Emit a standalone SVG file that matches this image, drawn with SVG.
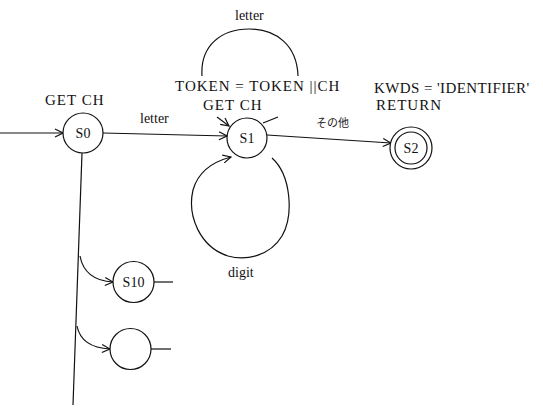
<svg xmlns="http://www.w3.org/2000/svg" width="543" height="408" viewBox="0 0 543 408">
<style>
  .bg { fill: #ffffff; }
  .node { fill: #ffffff; stroke: #111; stroke-width: 1.2; }
  .edge { fill: none; stroke: #111; stroke-width: 1.2; }
  .t { font-family: "Liberation Serif", "Times New Roman", serif; fill: #111; }
  .lbl { font-size: 14px; text-anchor: middle; }
  .act { font-size: 15px; letter-spacing: 1px; }
  .el { font-size: 14px; }
  .jp { font-family: "Noto Sans CJK JP", sans-serif; font-size: 11px; fill: #222; }
</style>
<defs>
  <marker id="arr" viewBox="0 0 10 10" refX="9" refY="5" markerWidth="10" markerHeight="10" markerUnits="userSpaceOnUse" orient="auto">
    <path d="M1,1 L9,5 L1,9" fill="none" stroke="#111" stroke-width="1.2"/>
  </marker>
</defs>
<rect class="bg" x="0" y="0" width="543" height="408"/>

<g id="connectors">
  <line class="edge" x1="0" y1="133" x2="63" y2="133" marker-end="url(#arr)"/>
  <line class="edge" x1="103" y1="133" x2="227" y2="136" marker-end="url(#arr)"/>
  <line class="edge" x1="267" y1="135" x2="391" y2="143" marker-end="url(#arr)"/>
  <path class="edge" d="M202,76 C200,45 222,29 249,29 C276,29 297,45 298,76"/>
  <line class="edge" x1="217" y1="117" x2="229" y2="126" marker-end="url(#arr)"/>
  <line class="edge" x1="263" y1="123" x2="278" y2="117"/>
  <path class="edge" d="M272,158 C291,175 294,215 282,236 C270,256 246,261 228,256 C200,247 187,216 193,190 C198,172 212,162 231,157" marker-end="url(#arr)"/>
  <line class="edge" x1="82" y1="153" x2="73" y2="405"/>
  <path class="edge" d="M80,256 C83,272 94,281 113,282" marker-end="url(#arr)"/>
  <path class="edge" d="M77,326 C80,341 91,348 110,349" marker-end="url(#arr)"/>
  <line class="edge" x1="154" y1="282" x2="173" y2="282"/>
  <line class="edge" x1="151" y1="349" x2="171" y2="349"/>
  <text class="t el" x="140" y="123">letter</text>
  <text class="t el" x="235" y="20">letter</text>
  <text class="t el" x="228" y="277">digit</text>
  <text class="jp" x="316" y="127">その他</text>
</g>

<g id="S0">
  <circle class="node" cx="83" cy="133" r="20"/>
  <text class="t lbl" x="83" y="138">S0</text>
  <text class="t act" x="45" y="105">GET CH</text>
</g>

<g id="S1">
  <circle class="node" cx="247" cy="138" r="20"/>
  <text class="t lbl" x="247" y="143">S1</text>
  <text class="t act" x="175" y="91">TOKEN = TOKEN ||CH</text>
  <text class="t act" x="203" y="110">GET CH</text>
</g>

<g id="S2">
  <circle class="node" cx="411" cy="148" r="21"/>
  <circle class="node" cx="411" cy="148" r="16"/>
  <text class="t lbl" x="411" y="153">S2</text>
  <text class="t act" x="374" y="93" style="letter-spacing:0.4px">KWDS = 'IDENTIFIER'</text>
  <text class="t act" x="376" y="110">RETURN</text>
</g>

<g id="S10">
  <circle class="node" cx="133.5" cy="282" r="20.5"/>
  <text class="t lbl" x="133.5" y="287">S10</text>
</g>

<g id="S_blank">
  <circle class="node" cx="130.5" cy="349" r="20.5"/>
</g>
</svg>
